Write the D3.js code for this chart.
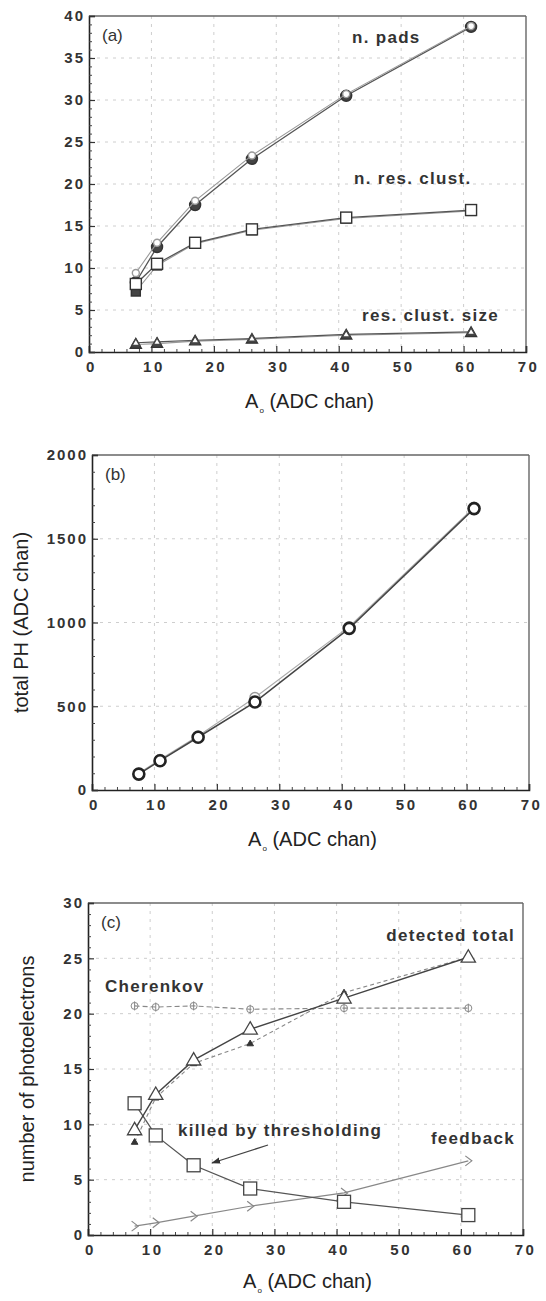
<!DOCTYPE html>
<html><head><meta charset="utf-8">
<script src="https://cdn.jsdelivr.net/npm/d3@7"></script>
<style>body{margin:0;background:#fff}</style>
</head><body><svg id="c" width="546" height="1301"></svg>
<script>
// ---------- data ----------
const xVals = [7.5, 10.9, 17, 26.1, 41.2, 61.2];
const xTicks = [0, 10, 20, 30, 40, 50, 60, 70];

// panel (a)
const aYTicks = [0, 5, 10, 15, 20, 25, 30, 35, 40];
const nPadsOpen = [9.4, 13.0, 18.0, 23.4, 30.7, 38.8];
const nPadsFilled = [8.3, 12.5, 17.5, 23.0, 30.5, 38.7];
const nResClustOpen = [8.1, 10.5, 13.0, 14.6, 16.0, 16.9];
const nResClustFilled = [7.2, 10.3, 12.9, 14.5, 15.9, 16.8];
const clustSizeOpen = [1.1, 1.2, 1.4, 1.6, 2.1, 2.4];
const clustSizeFilled = [0.9, 1.0, 1.3, 1.5, 2.0, 2.3];

// panel (b)
const bYTicks = [0, 500, 1000, 1500, 2000];
const totalPHA = [95, 175, 315, 525, 965, 1680];
const totalPHB = [100, 182, 322, 552, 975, 1688];

// panel (c)
const cYTicks = [0, 5, 10, 15, 20, 25, 30];
const cherenkov = [20.7, 20.6, 20.7, 20.4, 20.5, 20.5];
const detectedOpen = [9.5, 12.7, 15.8, 18.6, 21.4, 25.1];
const detectedFilled = [8.4, 12.4, 15.5, 17.3, 21.9, 25.1];
const killed = [11.9, 9.0, 6.3, 4.2, 3.0, 1.8];
const feedback = [0.8, 1.1, 1.7, 2.6, 3.8, 6.7];

const xLabel = "A", xLabelSub = "o", xLabelRest = " (ADC chan)";

// ---------- drawing ----------
const svg = d3.select("#c");
const FONT = "'Liberation Sans', Arial, Helvetica, sans-serif";

function panel(cfg) {
  const x = d3.scaleLinear().domain([0, 70]).range([cfg.x0, cfg.x1]);
  const y = d3.scaleLinear().domain(cfg.yDomain).range([cfg.yBot, cfg.yTop]);
  const g = svg.append("g");
  g.selectAll(".gx").data(xTicks.slice(1, -1)).join("line")
    .attr("x1", d => x(d)).attr("x2", d => x(d))
    .attr("y1", cfg.yTop).attr("y2", cfg.yBot)
    .attr("stroke", "#c8c8c8").attr("stroke-width", 0.9).attr("stroke-dasharray", "3,5");
  g.selectAll(".gy").data(cfg.yTicks.slice(1, -1)).join("line")
    .attr("x1", cfg.x0).attr("x2", cfg.x1)
    .attr("y1", d => y(d)).attr("y2", d => y(d))
    .attr("stroke", "#c8c8c8").attr("stroke-width", 0.9).attr("stroke-dasharray", "3,5");
  g.append("line").attr("x1", cfg.x0).attr("x2", cfg.x1).attr("y1", cfg.yTop).attr("y2", cfg.yTop)
    .attr("stroke", "#666").attr("stroke-width", 1.4);
  g.append("line").attr("x1", cfg.x1).attr("x2", cfg.x1).attr("y1", cfg.yTop).attr("y2", cfg.yBot)
    .attr("stroke", "#666").attr("stroke-width", 1.4);
  const ax = d3.axisBottom(x).tickValues(xTicks).tickSize(-6).tickFormat(d3.format("d"));
  const gx = g.append("g").attr("transform", `translate(0,${cfg.yBot})`).call(ax);
  gx.select(".domain").attr("stroke", "#222").attr("stroke-width", 1.6);
  gx.selectAll(".tick line").attr("stroke", "#333").attr("stroke-width", 1.2);
  gx.selectAll("text").attr("dy", "1.05em").attr("y", 4)
    .attr("font-family", FONT).attr("font-size", 15).attr("font-weight", "bold")
    .attr("letter-spacing", "2.5px").attr("fill", "#333").attr("dx", "2px");
  const minorX = d3.range(0, 71, 2).filter(d => d % 10 !== 0);
  const axm = d3.axisBottom(x).tickValues(minorX).tickSize(-3).tickFormat("");
  const gxm = g.append("g").attr("transform", `translate(0,${cfg.yBot})`).call(axm);
  gxm.select(".domain").remove();
  gxm.selectAll(".tick line").attr("stroke", "#444").attr("stroke-width", 1);

  const ay = d3.axisLeft(y).tickValues(cfg.yTicks).tickSize(-6).tickFormat(d3.format("d"));
  const gy = g.append("g").attr("transform", `translate(${cfg.x0},0)`).call(ay);
  gy.select(".domain").attr("stroke", "#222").attr("stroke-width", 1.6);
  gy.selectAll(".tick line").attr("stroke", "#333").attr("stroke-width", 1.2);
  gy.selectAll("text").attr("x", -4)
    .attr("font-family", FONT).attr("font-size", 15).attr("font-weight", "bold")
    .attr("letter-spacing", "2px").attr("fill", "#333");
  const axmY = d3.axisLeft(y).tickValues(d3.range(cfg.yDomain[0], cfg.yDomain[1] + 1e-9, cfg.yMinor)
      .filter(d => cfg.yTicks.indexOf(d) < 0)).tickSize(-3).tickFormat("");
  const gym = g.append("g").attr("transform", `translate(${cfg.x0},0)`).call(axmY);
  gym.select(".domain").remove();
  gym.selectAll(".tick line").attr("stroke", "#444").attr("stroke-width", 1);

  const t = g.append("text").attr("x", (cfg.x0 + cfg.x1) / 2 + 2).attr("y", cfg.yBot + cfg.titleOff)
    .attr("text-anchor", "middle").attr("font-family", FONT).attr("font-size", 20).attr("fill", "#222");
  t.append("tspan").text(xLabel);
  t.append("tspan").text(xLabelSub).attr("font-size", 8).attr("dy", 5).attr("dx", 1);
  t.append("tspan").text(xLabelRest).attr("dy", -5);
  g.append("text").attr("x", cfg.x0 + 13).attr("y", cfg.yTop + 25).text(cfg.tag)
    .attr("font-family", FONT).attr("font-size", 17).attr("fill", "#333");
  return { x, y, g };
}

function series(p, vals, opt) {
  const pts = xVals.map((xv, i) => [xv, vals[i]]);
  const line = d3.line().x(d => p.x(d[0])).y(d => p.y(d[1]));
  p.g.append("path").attr("d", line(pts)).attr("fill", "none")
    .attr("stroke", opt.lineColor || "#555").attr("stroke-width", opt.lineWidth || 1.2)
    .attr("stroke-dasharray", opt.dash || null);
  const m = p.g.append("g");
  pts.forEach(d => drawMarker(m, opt.marker, p.x(d[0]), p.y(d[1]), opt));
}

function drawMarker(g, type, cx, cy, opt) {
  const s = opt.size || 5;
  const stroke = opt.mStroke || "#333";
  const fill = opt.mFill || "#fff";
  const sw = opt.mWidth || 1.4;
  if (type === "circle") {
    g.append("circle").attr("cx", cx).attr("cy", cy).attr("r", s)
      .attr("fill", fill).attr("stroke", stroke).attr("stroke-width", sw);
  } else if (type === "square") {
    g.append("rect").attr("x", cx - s).attr("y", cy - s).attr("width", 2 * s).attr("height", 2 * s)
      .attr("fill", fill).attr("stroke", stroke).attr("stroke-width", sw);
  } else if (type === "triangle") {
    g.append("path").attr("d", `M${cx},${cy - s * 1.15}L${cx + s * 1.1},${cy + s * 0.75}L${cx - s * 1.1},${cy + s * 0.75}Z`)
      .attr("fill", fill).attr("stroke", stroke).attr("stroke-width", sw);
  } else if (type === "phi") {
    g.append("circle").attr("cx", cx).attr("cy", cy).attr("r", s)
      .attr("fill", "none").attr("stroke", stroke).attr("stroke-width", sw);
    g.append("line").attr("x1", cx).attr("x2", cx).attr("y1", cy - s - 1).attr("y2", cy + s + 1)
      .attr("stroke", stroke).attr("stroke-width", sw);
  } else if (type === "chevron") {
    g.append("path").attr("d", `M${cx - s * 0.6},${cy - s}L${cx + s * 0.7},${cy}L${cx - s * 0.6},${cy + s}`)
      .attr("fill", "none").attr("stroke", stroke).attr("stroke-width", sw);
  }
}

function label(p, x, y, txt, size, anchor) {
  p.g.append("text").attr("x", x).attr("y", y).text(txt)
    .attr("font-family", FONT).attr("font-size", size || 17).attr("font-weight", "bold")
    .attr("letter-spacing", "1.3px").attr("fill", "#333").attr("text-anchor", anchor || "start")
    .attr("dominant-baseline", "middle");
}

// ---- panel (a)
const pa = panel({ x0: 89, x1: 526, yTop: 16, yBot: 352, yDomain: [0, 40], yTicks: aYTicks, yMinor: 1, tag: "(a)", titleOff: 56 });
series(pa, nPadsFilled, { marker: "circle", lineColor: "#555", lineWidth: 1.3, mFill: "#444", mStroke: "#333", size: 5.5 });
series(pa, nPadsOpen, { marker: "circle", lineColor: "#999", lineWidth: 1.1, mStroke: "#999", size: 3.5 });
series(pa, nResClustFilled, { marker: "square", lineColor: "#999", lineWidth: 1.1, mFill: "#444", size: 4.5 });
series(pa, nResClustOpen, { marker: "square", lineColor: "#555", lineWidth: 1.3, size: 5.5 });
series(pa, clustSizeFilled, { marker: "triangle", lineColor: "#999", lineWidth: 1.1, mFill: "#444", size: 5 });
series(pa, clustSizeOpen, { marker: "triangle", lineColor: "#555", lineWidth: 1.2, mStroke: "#444", size: 3.5 });
label(pa, 352, 39, "n. pads");
label(pa, 354, 180, "n. res. clust.");
label(pa, 362, 317, "res. clust. size");

// ---- panel (b)
const pb = panel({ x0: 92, x1: 529, yTop: 455, yBot: 790, yDomain: [0, 2000], yTicks: bYTicks, yMinor: 100, tag: "(b)", titleOff: 56 });
series(pb, totalPHB, { marker: "circle", lineColor: "#aaa", lineWidth: 1.1, mStroke: "#999", size: 5 });
series(pb, totalPHA, { marker: "circle", lineColor: "#444", lineWidth: 1.5, mStroke: "#222", mWidth: 2.6, size: 5.5 });
pb.g.append("text").attr("transform", `translate(28,${(455 + 790) / 2}) rotate(-90)`)
  .attr("text-anchor", "middle").attr("font-family", FONT).attr("font-size", 20).attr("fill", "#222")
  .text("total PH (ADC chan)");

// ---- panel (c)
const pc = panel({ x0: 88, x1: 523, yTop: 903, yBot: 1235, yDomain: [0, 30], yTicks: cYTicks, yMinor: 1, tag: "(c)", titleOff: 53 });
series(pc, cherenkov, { marker: "phi", lineColor: "#888", lineWidth: 1.1, dash: "5,3", mStroke: "#888", mWidth: 1, size: 3.5 });
series(pc, feedback, { marker: "chevron", lineColor: "#888", lineWidth: 1.2, mStroke: "#888", mWidth: 1.2, size: 5 });
series(pc, killed, { marker: "square", lineColor: "#555", lineWidth: 1.3, mStroke: "#444", mWidth: 1.3, size: 6.5 });
series(pc, detectedFilled, { marker: "triangle", lineColor: "#888", lineWidth: 1.1, dash: "4,3", mFill: "#333", mStroke: "#333", mWidth: 1, size: 3 });
series(pc, detectedOpen, { marker: "triangle", lineColor: "#444", lineWidth: 1.4, mStroke: "#444", mWidth: 1.3, size: 6.5 });
label(pc, 105, 988, "Cherenkov");
label(pc, 515, 937, "detected  total", 17, "end");
label(pc, 178, 1132, "killed by thresholding");
label(pc, 515, 1140, "feedback", 17, "end");
const defs = svg.append("defs");
defs.append("marker").attr("id", "ah").attr("viewBox", "0 0 10 10").attr("refX", 9).attr("refY", 5)
  .attr("markerWidth", 7).attr("markerHeight", 7).attr("orient", "auto")
  .append("path").attr("d", "M0,1.5L10,5L0,8.5Z").attr("fill", "#333");
pc.g.append("line").attr("x1", 268).attr("y1", 1145).attr("x2", 212).attr("y2", 1163)
  .attr("stroke", "#444").attr("stroke-width", 1.3).attr("marker-end", "url(#ah)");
pc.g.append("text").attr("transform", `translate(34,${(903 + 1235) / 2}) rotate(-90)`)
  .attr("text-anchor", "middle").attr("font-family", FONT).attr("font-size", 20).attr("fill", "#222")
  .text("number of photoelectrons");
</script>
</body></html>
